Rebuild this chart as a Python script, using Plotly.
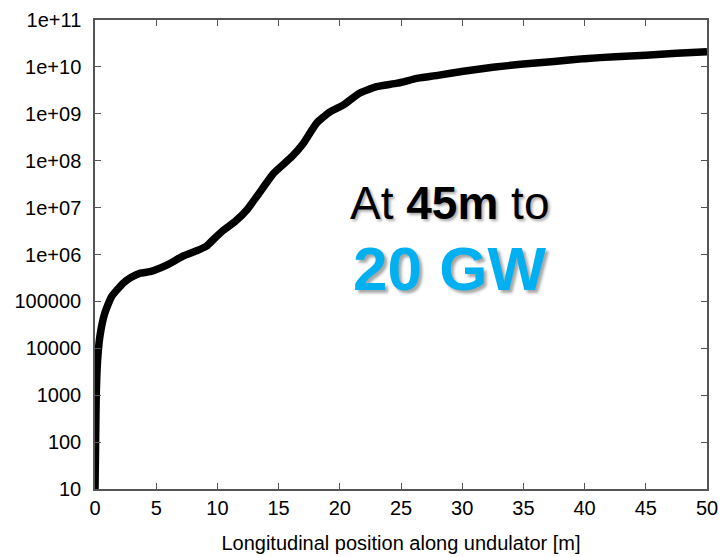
import plotly.graph_objects as go

# Longitudinal position along the undulator [m]
position_m = [0, 0.05, 0.1, 0.2, 0.4, 0.8, 1.35, 2.3, 3.0, 3.7, 4.5, 5.9, 7.2, 8.3,
              9.1, 9.8, 10.5, 11.5, 12.4, 13.2, 14.6, 16.1, 17.0, 18.1, 19.2, 20.3, 21.6,
              23.0, 24.7, 26.4, 28.0, 30.1, 32.5, 35.0, 37.5, 40.0, 42.5, 45.0, 47.5, 50.0]

# Radiation power [W]
power_w = [1e1, 1e2, 1e3, 5e3, 1.8e4, 5.6e4, 1.26e5, 2.45e5, 3.3e5, 4.0e5, 4.3e5, 6.0e5,
           9.3e5, 1.2e6, 1.5e6, 2.25e6, 3.3e6, 5.2e6, 8.9e6, 1.7e7, 5.4e7, 1.23e8, 2.3e8,
           6.3e8, 1.1e9, 1.55e9, 2.75e9, 3.8e9, 4.5e9, 5.75e9, 6.6e9, 8.1e9, 9.8e9,
           1.15e10, 1.3e10, 1.5e10, 1.65e10, 1.78e10, 1.95e10, 2.1e10]

y_tick_vals = [1e1, 1e2, 1e3, 1e4, 1e5, 1e6, 1e7, 1e8, 1e9, 1e10, 1e11]
y_tick_text = ["10", "100", "1000", "10000", "100000", "1e+06", "1e+07",
               "1e+08", "1e+09", "1e+10", "1e+11"]
x_tick_vals = [0, 5, 10, 15, 20, 25, 30, 35, 40, 45, 50]

FONT = "Liberation Sans, Arial, Helvetica, sans-serif"
AXIS_COLOR = "#555555"

fig = go.Figure()
fig.add_trace(go.Scatter(
    x=position_m, y=power_w, mode="lines",
    line=dict(color="black", width=7.5, shape="spline", smoothing=0.5),
    showlegend=False, hoverinfo="skip",
))

fig.update_layout(
    width=723, height=557,
    margin=dict(l=95, r=16, t=20, b=68),
    paper_bgcolor="white", plot_bgcolor="white",
    font=dict(family=FONT, color="black"),
)

fig.update_xaxes(
    range=[0, 50], tickvals=x_tick_vals, ticks="inside", ticklen=6, tickwidth=1,
    tickcolor=AXIS_COLOR, showline=True, linecolor=AXIS_COLOR, linewidth=1.5,
    mirror="ticks", showgrid=False, zeroline=False, automargin=False,
    tickfont=dict(size=20, family=FONT, color="black"),
    title=dict(text="Longitudinal position along undulator [m]",
               font=dict(size=20, family=FONT, color="black"), standoff=18),
)

fig.update_yaxes(
    type="log", range=[1, 11], tickvals=y_tick_vals, ticktext=y_tick_text,
    ticks="inside", ticklen=6, tickwidth=1, tickcolor=AXIS_COLOR,
    showline=True, linecolor=AXIS_COLOR, linewidth=1.5, mirror="ticks",
    showgrid=False, zeroline=False, ticklabelstandoff=8, automargin=False,
    tickfont=dict(size=20, family=FONT, color="black"),
)

fig.add_annotation(
    xref="paper", yref="paper", x=0.58, y=0.61, showarrow=False,
    text="At <b>45m</b> to",
    font=dict(size=46, family=FONT, color="black",
              shadow="2px 2px 3px rgba(0,0,0,0.35)"),
)
fig.add_annotation(
    xref="paper", yref="paper", x=0.58, y=0.47, showarrow=False,
    text="<b>20 GW</b>",
    font=dict(size=62, family=FONT, color="#00B0F0",
              shadow="3px 3px 3px rgba(0,0,0,0.35)"),
)

fig.write_html("out.html")
